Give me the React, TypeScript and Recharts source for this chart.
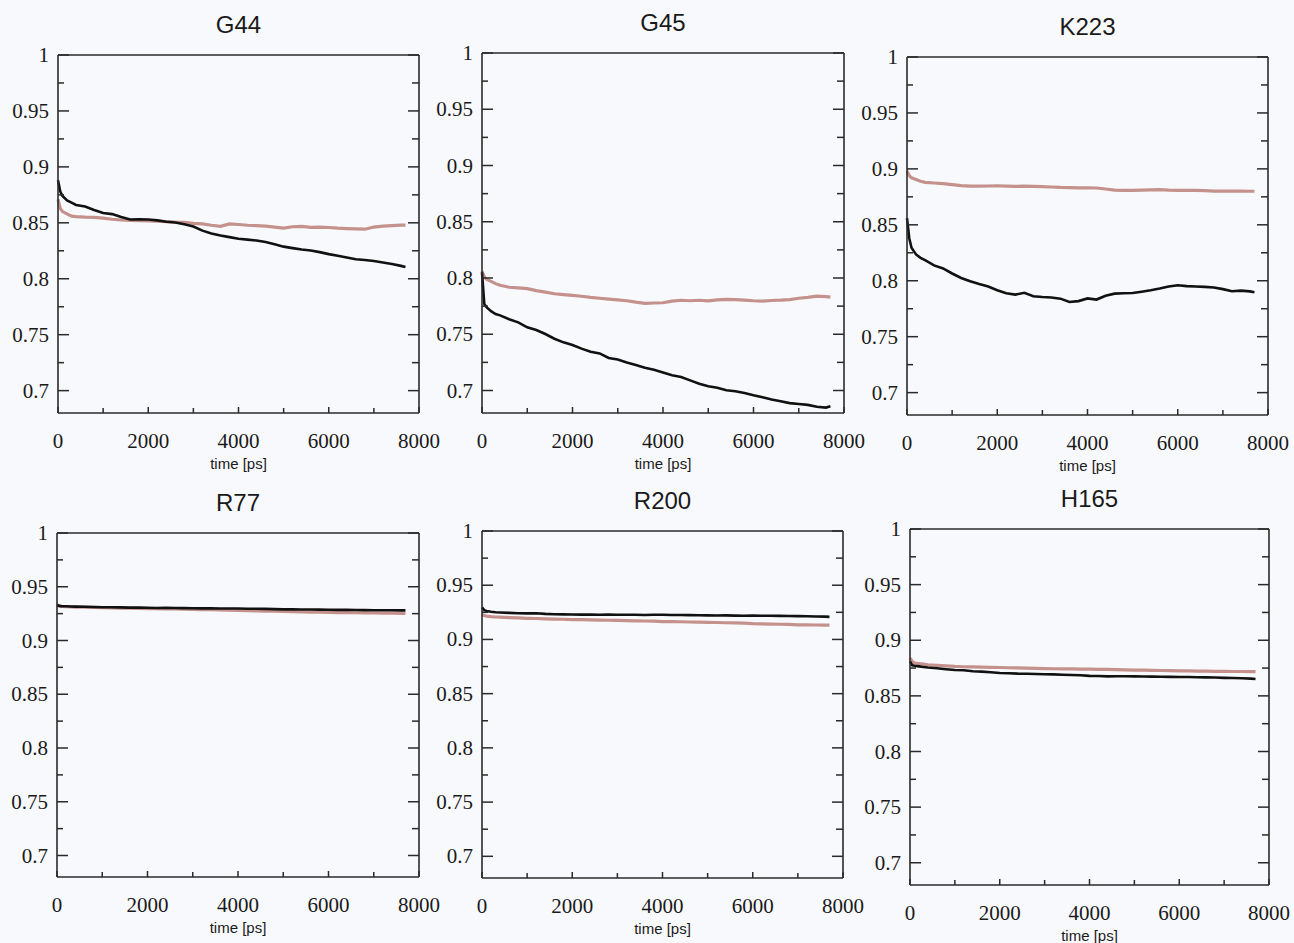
import React from 'react';
import { LineChart, Line, XAxis, YAxis, ReferenceLine } from 'recharts';

// simulation time [ps]
const times = [0, 50, 100, 200, 300, 400, 600, 800, 1000, 1200, 1400, 1600, 1800, 2000, 2200, 2400, 2600, 2800, 3000, 3200, 3400, 3600, 3800, 4000, 4200, 4400, 4600, 4800, 5000, 5200, 5400, 5600, 5800, 6000, 6200, 6400, 6600, 6800, 7000, 7200, 7400, 7600, 7700];

const g44Black = [0.888, 0.878, 0.874, 0.870, 0.868, 0.866, 0.8645, 0.8615, 0.8588, 0.8578, 0.8552, 0.853, 0.8532, 0.853, 0.8522, 0.851, 0.8503, 0.8488, 0.8467, 0.843, 0.8405, 0.8386, 0.8372, 0.8358, 0.835, 0.8342, 0.8328, 0.8308, 0.8287, 0.8274, 0.8261, 0.8252, 0.8238, 0.822, 0.8205, 0.819, 0.8175, 0.8168, 0.8158, 0.8145, 0.8132, 0.8115, 0.8104];
const g44Pink = [0.871, 0.863, 0.860, 0.858, 0.856, 0.8555, 0.855, 0.8548, 0.8542, 0.8532, 0.8525, 0.8522, 0.852, 0.8518, 0.8515, 0.851, 0.8506, 0.8505, 0.8495, 0.849, 0.8478, 0.8468, 0.849, 0.8485, 0.8478, 0.8475, 0.847, 0.8462, 0.8452, 0.8465, 0.8468, 0.846, 0.8462, 0.8458, 0.8452, 0.8448, 0.8445, 0.8443, 0.8462, 0.847, 0.8475, 0.848, 0.848];

const g45Black = [0.805, 0.777, 0.774, 0.7705, 0.768, 0.7668, 0.7633, 0.7606, 0.7562, 0.7538, 0.7502, 0.746, 0.7428, 0.7405, 0.7372, 0.7344, 0.733, 0.7289, 0.7275, 0.7248, 0.7226, 0.7203, 0.7185, 0.716, 0.7135, 0.712, 0.709, 0.706, 0.7038, 0.7024, 0.7002, 0.6993, 0.6978, 0.6958, 0.694, 0.692, 0.6905, 0.6888, 0.688, 0.6872, 0.6855, 0.6848, 0.686];
const g45Pink = [0.806, 0.801, 0.799, 0.797, 0.795, 0.7935, 0.7918, 0.7912, 0.7905, 0.7888, 0.7875, 0.786, 0.7852, 0.7845, 0.7838, 0.7828, 0.782, 0.7812, 0.7805, 0.7798, 0.7785, 0.7775, 0.7778, 0.778, 0.7795, 0.7802, 0.7798, 0.7802, 0.7796, 0.7805, 0.781, 0.7808, 0.7804, 0.7798, 0.7795, 0.78, 0.7803, 0.7808, 0.782, 0.7828, 0.7838, 0.7835, 0.783];

const k223Black = [0.856, 0.838, 0.8295, 0.8235, 0.8205, 0.8185, 0.8137, 0.811, 0.8065, 0.8025, 0.7995, 0.797, 0.7948, 0.7915, 0.7888, 0.7876, 0.7892, 0.7862, 0.7855, 0.785, 0.784, 0.781, 0.7818, 0.7842, 0.7832, 0.7865, 0.7885, 0.7888, 0.789, 0.7902, 0.7915, 0.793, 0.7948, 0.796, 0.7952, 0.7948, 0.7945, 0.794, 0.7925, 0.7906, 0.7912, 0.7905, 0.7898];
const k223Pink = [0.898, 0.894, 0.892, 0.8905, 0.889, 0.888, 0.8874, 0.8868, 0.886, 0.885, 0.8846, 0.8845, 0.8847, 0.8849, 0.8846, 0.8844, 0.8845, 0.8844, 0.8842, 0.8838, 0.8834, 0.8832, 0.883, 0.8831, 0.8829, 0.882, 0.881, 0.8807, 0.8808, 0.881, 0.8812, 0.8814, 0.881, 0.8808, 0.8807, 0.8808, 0.8805, 0.8802, 0.8802, 0.8801, 0.8801, 0.88, 0.88];

const r77Black = [0.933, 0.9322, 0.932, 0.9318, 0.9316, 0.9315, 0.9314, 0.9312, 0.931, 0.9309, 0.9308, 0.9306, 0.9307, 0.9305, 0.9303, 0.9304, 0.9302, 0.9301, 0.93, 0.9299, 0.93, 0.9298, 0.9297, 0.9298, 0.9296, 0.9295, 0.9294, 0.9292, 0.929, 0.9291, 0.9289, 0.9288, 0.9287, 0.9286, 0.9285, 0.9285, 0.9284, 0.9283, 0.9282, 0.9282, 0.9281, 0.928, 0.928];
const r77Pink = [0.9335, 0.932, 0.9316, 0.9314, 0.9312, 0.9311, 0.931, 0.9308, 0.9306, 0.9304, 0.9302, 0.93, 0.9299, 0.9297, 0.9296, 0.9295, 0.9294, 0.9292, 0.929, 0.9288, 0.9286, 0.9284, 0.9282, 0.928, 0.9278, 0.9276, 0.9274, 0.9272, 0.927, 0.9268, 0.9266, 0.9264, 0.9263, 0.9262, 0.926, 0.9259, 0.9258, 0.9257, 0.9256, 0.9255, 0.9254, 0.9253, 0.9252];

const r200Black = [0.9295, 0.927, 0.9262, 0.9255, 0.925, 0.9248, 0.9245, 0.9242, 0.924, 0.9242, 0.9236, 0.9232, 0.9231, 0.923, 0.9229, 0.923, 0.9228, 0.9229, 0.9228, 0.9227, 0.9228, 0.9226, 0.9227, 0.9228, 0.9226, 0.9225, 0.9224, 0.9223, 0.9222, 0.9221, 0.9222, 0.922, 0.9219, 0.922, 0.9219, 0.9218, 0.9217, 0.9216, 0.9215, 0.9214, 0.9212, 0.921, 0.9208];
const r200Pink = [0.923, 0.922, 0.9215, 0.921, 0.9207, 0.9205, 0.9202, 0.9198, 0.9195, 0.9193, 0.919, 0.9188, 0.9186, 0.9183, 0.9182, 0.918, 0.9179, 0.9177, 0.9175, 0.9174, 0.9172, 0.917, 0.9168, 0.9165, 0.9164, 0.9163, 0.9161, 0.916, 0.9158, 0.9156, 0.9154, 0.9152, 0.915, 0.9145, 0.9144, 0.9142, 0.914, 0.9138, 0.9135, 0.9134, 0.9133, 0.9132, 0.9132];

const h165Black = [0.881, 0.8775, 0.877, 0.8765, 0.876, 0.8755, 0.8748, 0.874, 0.8732, 0.873, 0.8722, 0.8718, 0.8712, 0.8705, 0.8703, 0.87, 0.8699, 0.8697, 0.8695, 0.8693, 0.869, 0.8688, 0.8686, 0.868, 0.8679, 0.8675, 0.8677, 0.8676, 0.8675, 0.8674, 0.8673, 0.8672, 0.8671, 0.867, 0.8669, 0.8667, 0.8666, 0.8665, 0.8662, 0.866, 0.8658, 0.8655, 0.8652];
const h165Pink = [0.884, 0.881, 0.8795, 0.879, 0.8785, 0.878, 0.8775, 0.877, 0.8765, 0.8762, 0.876, 0.8758, 0.8756, 0.8755, 0.8753, 0.8751, 0.8749, 0.8747, 0.8745, 0.8744, 0.8743, 0.8742, 0.8741, 0.874, 0.8739, 0.8738, 0.8736, 0.8734, 0.8732, 0.8731, 0.873, 0.8728, 0.8727, 0.8725, 0.8724, 0.8723, 0.8722, 0.8721, 0.872, 0.8719, 0.8719, 0.8718, 0.8718];

const xTicks = [0, 1000, 2000, 3000, 4000, 5000, 6000, 7000, 8000];
const yTicks = [0.7, 0.725, 0.75, 0.775, 0.8, 0.825, 0.85, 0.875, 0.9, 0.925, 0.95, 0.975, 1];

// plot box of each panel in page pixels: [left, top, right, bottom]
const panels = [
  { title: 'G44', black: g44Black, pink: g44Pink, box: [58, 55, 419, 413] },
  { title: 'G45', black: g45Black, pink: g45Pink, box: [482, 53, 844, 413] },
  { title: 'K223', black: k223Black, pink: k223Pink, box: [907, 57, 1268, 415] },
  { title: 'R77', black: r77Black, pink: r77Pink, box: [57, 533, 419, 877] },
  { title: 'R200', black: r200Black, pink: r200Pink, box: [482, 531, 843, 878] },
  { title: 'H165', black: h165Black, pink: h165Pink, box: [910, 529, 1269, 885] },
];

const PAD_L = 60;
const AXIS_R = 2;
const PAD_R = 26;
const PAD_T = 20;
const PAD_B = 60;

const AXIS = '#2a2a2a';
const PINK = '#c4918c';
const SERIF = '"Liberation Serif", "Times New Roman", serif';
const SANS = '"Liberation Sans", Arial, Helvetica, sans-serif';

const isMajorY = (v: number) => Math.abs(v * 20 - Math.round(v * 20)) < 1e-6;

const LeftTick = (props: any) => {
  const { x, y, payload } = props;
  const v = payload.value;
  const major = isMajorY(v);
  return (
    <g>
      <line x1={x} y1={y} x2={x + (major ? 11 : 6)} y2={y} stroke={AXIS} strokeWidth={1.5} />
      {major && (
        <text x={x - 9} y={y} textAnchor="end" dominantBaseline="central" fill="#1a1a1a" fontSize={21} fontFamily={SERIF}>
          {String(v)}
        </text>
      )}
    </g>
  );
};

const RightTick = (props: any) => {
  const { x, y, payload } = props;
  const major = isMajorY(payload.value);
  return <line x1={x} y1={y} x2={x - (major ? 11 : 7)} y2={y} stroke={AXIS} strokeWidth={1.5} />;
};

const BottomTick = (props: any) => {
  const { x, y, payload } = props;
  const v = payload.value;
  const major = v % 2000 === 0;
  return (
    <g>
      <line x1={x} y1={y} x2={x} y2={y - (major ? 6 : 5)} stroke={AXIS} strokeWidth={1.5} />
      {major && (
        <text x={x} y={y + 28} textAnchor="middle" dominantBaseline="central" fill="#1a1a1a" fontSize={21} fontFamily={SERIF}>
          {String(v)}
        </text>
      )}
    </g>
  );
};

function Panel({ title, black, pink, box }: { title: string; black: number[]; pink: number[]; box: number[] }) {
  const [L, T, R, B] = box;
  const w = R - L + PAD_L + AXIS_R + PAD_R;
  const h = B - T + PAD_T + PAD_B;
  const data = times.map((t, i) => ({ t, black: black[i], pink: pink[i] }));
  const axisLine = { stroke: AXIS, strokeWidth: 1.6 };

  return (
    <div style={{ position: 'absolute', left: L - PAD_L, top: T - PAD_T, width: w, height: h }}>
      <div
        style={{
          position: 'absolute',
          left: PAD_L,
          width: R - L,
          top: PAD_T - 30 - 15,
          height: 30,
          lineHeight: '30px',
          textAlign: 'center',
          fontFamily: SANS,
          fontSize: 24,
          color: '#1a1a1a',
        }}
      >
        {title}
      </div>
      <LineChart width={w} height={h} data={data} margin={{ top: PAD_T, right: PAD_R, bottom: 0, left: 0 }}>
        <XAxis
          dataKey="t"
          type="number"
          domain={[0, 8000]}
          ticks={xTicks}
          interval={0}
          tickSize={0}
          tickMargin={0}
          tickLine={false}
          axisLine={axisLine}
          tick={BottomTick}
          height={PAD_B}
          label={{ value: 'time [ps]', position: 'insideBottom', offset: 4, fill: '#1a1a1a', fontSize: 15, fontFamily: SANS }}
        />
        <YAxis
          yAxisId="l"
          type="number"
          domain={[0.68, 1]}
          ticks={yTicks}
          interval={0}
          width={PAD_L}
          tickSize={0}
          tickMargin={0}
          tickLine={false}
          axisLine={axisLine}
          tick={LeftTick}
          allowDataOverflow
        />
        <YAxis
          yAxisId="r"
          orientation="right"
          type="number"
          domain={[0.68, 1]}
          ticks={yTicks}
          interval={0}
          width={AXIS_R}
          tickSize={0}
          tickMargin={0}
          tickLine={false}
          axisLine={axisLine}
          tick={RightTick}
          allowDataOverflow
        />
        <ReferenceLine yAxisId="l" y={1} stroke={AXIS} strokeWidth={1.6} />
        <Line yAxisId="l" type="linear" dataKey="pink" stroke={PINK} strokeWidth={3.2} dot={false} isAnimationActive={false} />
        <Line yAxisId="l" type="linear" dataKey="black" stroke="#111" strokeWidth={2.6} dot={false} isAnimationActive={false} />
      </LineChart>
    </div>
  );
}

export default function App() {
  return (
    <div style={{ position: 'absolute', left: 0, top: 0, width: 1294, height: 943, background: '#f8f9fc', overflow: 'hidden' }}>
      {panels.map((p) => (
        <Panel key={p.title} title={p.title} black={p.black} pink={p.pink} box={p.box} />
      ))}
    </div>
  );
}
